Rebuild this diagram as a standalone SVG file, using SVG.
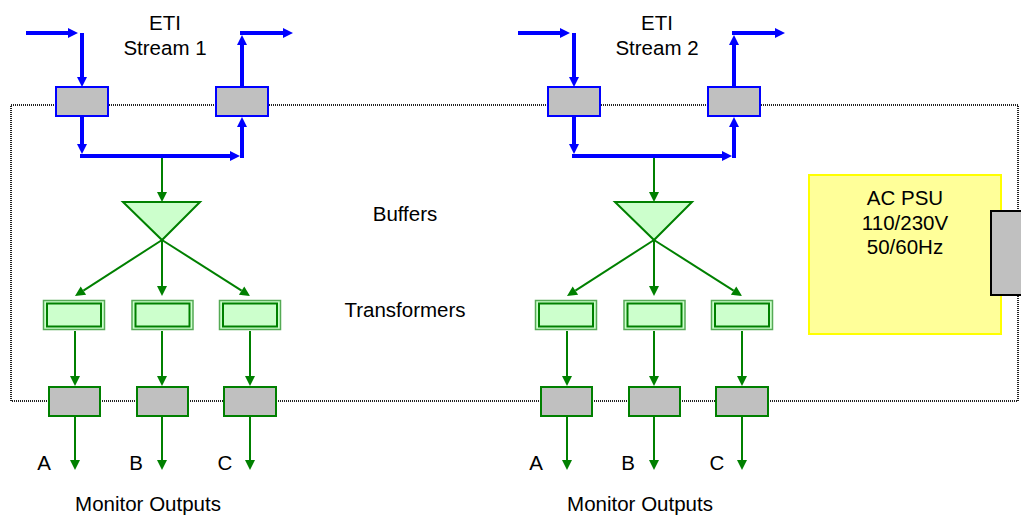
<svg xmlns="http://www.w3.org/2000/svg" width="1021" height="515" viewBox="0 0 1021 515">
<style>
text{font-family:"Liberation Sans",Arial,sans-serif;font-size:20.5px;fill:#000;text-anchor:middle}
.frame{fill:none;stroke:#222;stroke-width:2;stroke-dasharray:1 1}
.eti{fill:#c0c0c0;stroke:#0000ff;stroke-width:2}
.out{fill:#c0c0c0;stroke:#008000;stroke-width:2}
.tro{fill:#ccffcc;stroke:#55aa55;stroke-width:1.5}
.tri{fill:none;stroke:#008000;stroke-width:2}
.buf{fill:#ccffcc;stroke:#008000;stroke-width:2;stroke-linejoin:miter}
.psu{fill:#ffff99;stroke:#ffff00;stroke-width:2}
.psuin{fill:#c0c0c0;stroke:#000;stroke-width:2}
.b{fill:none;stroke:#0000ff;stroke-width:4;marker-end:url(#ab)}
.g{fill:none;stroke:#008000;stroke-width:2;marker-end:url(#ag)}
</style>
<defs>
<marker id="ab" markerUnits="userSpaceOnUse" markerWidth="11" markerHeight="12" refX="0" refY="6" orient="auto" overflow="visible"><path d="M0,1 L10,6 L0,11 z" fill="#0000ff"/></marker>
<marker id="ag" markerUnits="userSpaceOnUse" markerWidth="11" markerHeight="11" refX="0" refY="5" orient="auto" overflow="visible"><path d="M0,0 L10,5 L0,10 z" fill="#008000"/></marker>
</defs>
<rect class="frame" x="11" y="105" width="1007" height="296"/>
<g id="labels">
<text x="165" y="30">ETI</text><text x="165" y="55">Stream 1</text>
<text x="657" y="30">ETI</text><text x="657" y="55">Stream 2</text>
<text x="405" y="221">Buffers</text>
<text x="405" y="317">Transformers</text>
<text x="44" y="470">A</text><text x="136" y="470">B</text><text x="225" y="470">C</text>
<text x="536" y="470">A</text><text x="628" y="470">B</text><text x="717" y="470">C</text>
<text x="148" y="511">Monitor Outputs</text>
<text x="640" y="511">Monitor Outputs</text>
</g>
<g id="connectors">
<path class="b" d="M26,33 H68"/>
<path class="b" d="M82,33 V77"/>
<path class="b" d="M242,87 V45"/>
<path class="b" d="M240,33 H283"/>
<path class="b" d="M82,117 V144"/>
<path class="b" d="M80,156 H230"/>
<path class="b" d="M242,158 V127"/>
<path class="b" d="M518,33 H560"/>
<path class="b" d="M574,33 V77"/>
<path class="b" d="M734,87 V45"/>
<path class="b" d="M732,33 H775"/>
<path class="b" d="M574,117 V144"/>
<path class="b" d="M572,156 H722"/>
<path class="b" d="M734,158 V127"/>
<path class="g" d="M162,158 V192"/>
<path class="g" d="M162,240 L83.4,290.6"/>
<path class="g" d="M162,240 V286"/>
<path class="g" d="M162,240 L241.6,290.6"/>
<path class="g" d="M75,331 V376"/>
<path class="g" d="M162,331 V376"/>
<path class="g" d="M250,331 V376"/>
<path class="g" d="M75,416 V460"/>
<path class="g" d="M162,416 V460"/>
<path class="g" d="M250,416 V460"/>
<path class="g" d="M654,158 V192"/>
<path class="g" d="M654,240 L575.4,290.6"/>
<path class="g" d="M654,240 V286"/>
<path class="g" d="M654,240 L733.6,290.6"/>
<path class="g" d="M567,331 V376"/>
<path class="g" d="M654,331 V376"/>
<path class="g" d="M742,331 V376"/>
<path class="g" d="M567,416 V460"/>
<path class="g" d="M654,416 V460"/>
<path class="g" d="M742,416 V460"/>
</g>
<g id="eti-in-1"><rect class="eti" x="56" y="87" width="52" height="29"/></g>
<g id="eti-out-1"><rect class="eti" x="216" y="87" width="52" height="29"/></g>
<g id="eti-in-2"><rect class="eti" x="548" y="87" width="52" height="29"/></g>
<g id="eti-out-2"><rect class="eti" x="708" y="87" width="52" height="29"/></g>
<g id="buffer-1"><polygon class="buf" points="123,202 200,202 162,240"/></g>
<g id="buffer-2"><polygon class="buf" points="615,202 692,202 654,240"/></g>
<g id="tr-1a"><rect class="tro" x="43.5" y="300.5" width="61" height="29"/><rect class="tri" x="47" y="303.5" width="54" height="23"/></g>
<g id="tr-1b"><rect class="tro" x="132" y="300.5" width="61" height="29"/><rect class="tri" x="135.5" y="303.5" width="54" height="23"/></g>
<g id="tr-1c"><rect class="tro" x="219.5" y="300.5" width="61" height="29"/><rect class="tri" x="223" y="303.5" width="54" height="23"/></g>
<g id="tr-2a"><rect class="tro" x="535.5" y="300.5" width="61" height="29"/><rect class="tri" x="539" y="303.5" width="54" height="23"/></g>
<g id="tr-2b"><rect class="tro" x="624" y="300.5" width="61" height="29"/><rect class="tri" x="627.5" y="303.5" width="54" height="23"/></g>
<g id="tr-2c"><rect class="tro" x="711.5" y="300.5" width="61" height="29"/><rect class="tri" x="715" y="303.5" width="54" height="23"/></g>
<g id="out-1a"><rect class="out" x="49" y="387" width="51" height="29"/></g>
<g id="out-1b"><rect class="out" x="137" y="387" width="51" height="29"/></g>
<g id="out-1c"><rect class="out" x="224" y="387" width="52" height="29"/></g>
<g id="out-2a"><rect class="out" x="541" y="387" width="51" height="29"/></g>
<g id="out-2b"><rect class="out" x="629" y="387" width="51" height="29"/></g>
<g id="out-2c"><rect class="out" x="716" y="387" width="52" height="29"/></g>
<g id="psu">
<rect class="psu" x="809" y="175" width="192" height="159"/>
<text x="905" y="205">AC PSU</text><text x="905" y="230">110/230V</text><text x="905" y="254">50/60Hz</text>
</g>
<g id="psu-inlet"><rect class="psuin" x="991" y="211" width="40" height="84"/></g>
</svg>
